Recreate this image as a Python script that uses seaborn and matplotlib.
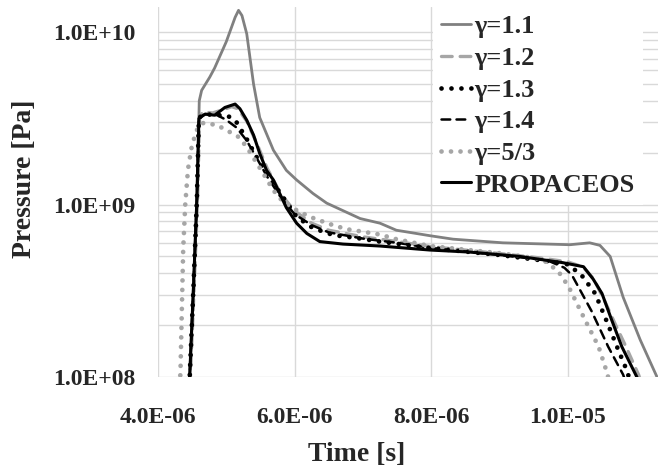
import pandas as pd
import seaborn as sns
import matplotlib
matplotlib.use('Agg')
import matplotlib.pyplot as plt
from matplotlib.ticker import FixedLocator, FuncFormatter, NullLocator, LogLocator

# Pressure vs time (time in microseconds, pressure in Pa)
t_g11 = [4.46, 4.52, 4.57, 4.600, 4.605, 4.64, 4.76, 4.83, 5.00, 5.13, 5.18, 5.23, 5.30, 5.35, 5.40,
         5.49, 5.69, 5.88, 6.03, 6.27, 6.47, 6.96, 7.25, 7.49, 7.98, 8.32, 9.05, 10.03, 10.32, 10.47,
         10.62, 10.81, 11.06, 11.30, 11.36]
p_g11 = [9e7, 3.3e8, 1.06e9, 3.2e9, 4.0e9, 4.6e9, 5.5e9, 6.2e9, 8.8e9, 1.22e10, 1.34e10, 1.25e10,
         9.8e9, 7.0e9, 5.0e9, 3.2e9, 2.07e9, 1.58e9, 1.39e9, 1.16e9, 1.02e9, 8.3e8, 7.8e8, 7.1e8,
         6.6e8, 6.3e8, 6.0e8, 5.85e8, 6.0e8, 5.8e8, 5.0e8, 2.9e8, 1.64e8, 1.01e8, 9.0e7]

t_g12 = [4.47, 4.53, 4.58, 4.61, 4.66, 4.80, 4.95, 5.08, 5.17, 5.30, 5.45, 5.60, 5.80, 6.00, 6.25,
         6.50, 7.00, 7.50, 8.00, 9.00, 9.60, 10.00, 10.22, 10.38, 10.55, 10.70, 10.85, 11.04, 11.08]
p_g12 = [9e7, 3.3e8, 1.06e9, 3.25e9, 3.45e9, 3.4e9, 3.55e9, 3.7e9, 3.6e9, 3.05e9, 2.25e9, 1.62e9,
         1.15e9, 9.2e8, 7.8e8, 7.1e8, 6.5e8, 6.1e8, 5.7e8, 5.2e8, 4.9e8, 4.65e8, 4.35e8, 3.7e8,
         2.7e8, 2.0e8, 1.5e8, 1.02e8, 9.0e7]

t_g13 = [4.46, 4.52, 4.57, 4.60, 4.69, 4.85, 5.00, 5.13, 5.30, 5.44, 5.60, 5.80, 6.03, 6.27, 6.57,
         6.91, 7.25, 7.98, 9.00, 9.70, 10.00, 10.20, 10.40, 10.57, 10.74, 10.86, 10.93]
p_g13 = [9e7, 3.3e8, 1.06e9, 3.2e9, 3.35e9, 3.3e9, 3.3e9, 3.1e9, 2.4e9, 1.9e9, 1.5e9, 1.15e9,
         8.5e8, 7.3e8, 6.65e8, 6.4e8, 6.1e8, 5.6e8, 5.1e8, 4.7e8, 4.5e8, 3.9e8, 3.05e8, 2.1e8,
         1.43e8, 1.1e8, 9.0e7]

t_g14 = [4.46, 4.52, 4.57, 4.60, 4.70, 4.87, 5.00, 5.15, 5.30, 5.45, 5.60, 5.80, 6.00, 6.25, 6.50,
         7.00, 7.50, 8.00, 9.00, 9.70, 9.95, 10.06, 10.35, 10.59, 10.81, 10.86]
p_g14 = [9e7, 3.3e8, 1.06e9, 3.2e9, 3.35e9, 3.3e9, 3.1e9, 2.8e9, 2.35e9, 1.85e9, 1.45e9, 1.1e9,
         8.8e8, 7.6e8, 6.9e8, 6.35e8, 6.0e8, 5.6e8, 5.1e8, 4.75e8, 4.3e8, 3.9e8, 2.4e8, 1.5e8,
         1.03e8, 9.0e7]

t_g53 = [4.32, 4.33, 4.37, 4.40, 4.44, 4.49, 4.54, 4.59, 4.66, 4.86, 5.05, 5.18, 5.30, 5.42, 5.54,
         5.69, 5.83, 5.98, 6.22, 6.52, 6.76, 7.01, 7.25, 7.49, 7.98, 9.05, 9.50, 9.64, 9.74, 9.86,
         10.01, 10.25, 10.45, 10.57, 10.62]
p_g53 = [9e7, 1.07e8, 5.5e8, 1.0e9, 1.6e9, 2.12e9, 2.5e9, 2.83e9, 2.97e9, 2.9e9, 2.64e9, 2.47e9,
         2.16e9, 1.81e9, 1.52e9, 1.21e9, 1.04e9, 9.5e8, 8.5e8, 7.7e8, 7.2e8, 6.95e8, 6.7e8, 6.3e8,
         5.75e8, 5.2e8, 4.9e8, 4.77e8, 4.46e8, 4.1e8, 3.35e8, 2.15e8, 1.5e8, 1.07e8, 9.0e7]

t_prop = [4.46, 4.52, 4.57, 4.60, 4.69, 4.83, 4.98, 5.13, 5.20, 5.30, 5.40, 5.49, 5.59, 5.69, 5.88,
          6.03, 6.18, 6.37, 6.71, 7.25, 7.98, 8.57, 9.30, 9.93, 10.23, 10.37, 10.50, 10.64, 10.79,
          11.01, 11.05]
p_prop = [9e7, 3.3e8, 1.06e9, 3.16e9, 3.35e9, 3.3e9, 3.66e9, 3.83e9, 3.6e9, 3.09e9, 2.53e9, 1.98e9,
          1.58e9, 1.39e9, 9.6e8, 7.8e8, 6.8e8, 6.1e8, 5.9e8, 5.75e8, 5.45e8, 5.3e8, 5.0e8, 4.6e8,
          4.36e8, 3.7e8, 3.05e8, 2.15e8, 1.5e8, 1.0e8, 9.0e7]

labels = ['γ=1.1', 'γ=1.2', 'γ=1.3', 'γ=1.4', 'γ=5/3', 'PROPACEOS']
times = [t_g11, t_g12, t_g13, t_g14, t_g53, t_prop]
pressures = [p_g11, p_g12, p_g13, p_g14, p_g53, p_prop]

x_ticks = [4e-6, 6e-6, 8e-6, 1e-5]
y_ticks = [1e8, 1e9, 1e10]

# line look for each series (colour, linestyle, width)
styles = {
    'γ=1.1': ('#808080', '-', 2.0),
    'γ=1.2': ('#a6a6a6', (0, (3.2, 2.4)), 2.4),
    'γ=1.3': ('black', (0, (0.01, 2.1)), 3.4),
    'γ=1.4': ('black', (0, (3.5, 2.5)), 1.8),
    'γ=5/3': ('#a6a6a6', (0, (0.01, 2.0)), 3.4),
    'PROPACEOS': ('black', '-', 2.2),
}

sns.set_style('white')
plt.rcParams['font.family'] = ['Liberation Serif', 'DejaVu Serif']
plt.rcParams['font.weight'] = 'bold'

fig = plt.figure(figsize=(6.58, 4.70), dpi=100)
ax = fig.add_axes([0.240, 0.198, 0.760, 0.787])

for lab, t, p in zip(labels, times, pressures):
    df = pd.DataFrame({'time': [v * 1e-6 for v in t], 'pressure': p})
    col, ls, lw = styles[lab]
    sns.lineplot(data=df, x='time', y='pressure', ax=ax, color=col, linestyle=ls,
                 linewidth=lw, label=lab, estimator=None, sort=False)
    ax.lines[-1].set_dash_capstyle('round')

ax.set_yscale('log')
ax.set_xlim(4e-6, 11.32e-6)
ax.set_ylim(1e8, 1.4e10)

ax.xaxis.set_major_locator(FixedLocator(x_ticks))
ax.xaxis.set_minor_locator(NullLocator())
ax.yaxis.set_major_locator(FixedLocator(y_ticks))
ax.yaxis.set_minor_locator(LogLocator(base=10, subs=range(2, 10)))
fmt = FuncFormatter(lambda v, pos: f'{v:.1E}')
ax.xaxis.set_major_formatter(fmt)
ax.yaxis.set_major_formatter(fmt)
ax.yaxis.set_minor_formatter(plt.NullFormatter())

ax.grid(which='major', color='#d9d9d9', linewidth=1.0)
ax.grid(which='minor', axis='y', color='#d9d9d9', linewidth=1.0)
ax.set_axisbelow(True)
for s in ax.spines.values():
    s.set_visible(False)
ax.tick_params(which='major', length=6, width=1, color='#d9d9d9', labelsize=17)
ax.tick_params(axis='y', which='major', pad=10)
ax.tick_params(axis='x', which='major', pad=16)
ax.tick_params(which='minor', length=0)

ax.set_xlabel('Time [s]', fontsize=20, fontweight='bold', va='center')
ax.set_ylabel('Pressure [Pa]', fontsize=20, fontweight='bold', va='center')
ax.xaxis.set_label_coords(0.398, -0.21)
ax.yaxis.set_label_coords(-0.266, 0.536)

leg = ax.legend(loc='upper left', bbox_to_anchor=(0.55, 1.0), borderaxespad=0, borderpad=0.3,
                frameon=True, fancybox=False, framealpha=1, edgecolor='white',
                handlelength=1.15, handletextpad=0.12, labelspacing=0.31,
                prop={'family': 'Liberation Serif', 'weight': 'bold', 'size': 19})
leg.get_frame().set_linewidth(0)

fig.savefig('out.png', dpi=100)
